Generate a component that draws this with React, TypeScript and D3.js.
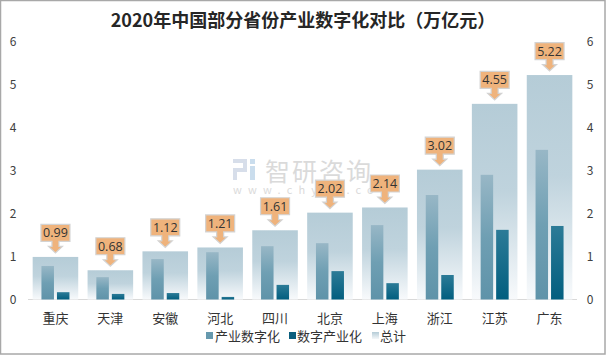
import React from "react";
import * as d3 from "d3";

const categories = ["重庆", "天津", "安徽", "河北", "四川", "北京", "上海", "浙江", "江苏", "广东"];
const industryDigital = [0.78, 0.52, 0.94, 1.1, 1.24, 1.31, 1.73, 2.43, 2.9, 3.48];
const digitalIndustry = [0.17, 0.13, 0.15, 0.06, 0.34, 0.66, 0.38, 0.57, 1.62, 1.71];
const totals = [0.99, 0.68, 1.12, 1.21, 1.61, 2.02, 2.14, 3.02, 4.55, 5.22];
const yTicks = [0, 1, 2, 3, 4, 5, 6];
const seriesNames = ["产业数字化", "数字产业化", "总计"];
const title = "2020年中国部分省份产业数字化对比（万亿元）";

const W = 606;
const H = 355;
const FONT = "'Noto Sans CJK SC', 'Noto Sans', sans-serif";

export default function App() {
  const x = d3.scaleBand<string>().domain(categories).range([28, 577]).padding(0);
  const y = d3.scaleLinear().domain([0, 6]).range([299.5, 41.5]);
  const step = x.bandwidth();
  const totalW = step * 0.83;
  const innerW = 12.5;
  const gap = 1.5;

  const callout = (cx: number, tipY: number) => {
    const bw = 29;
    const bh = 17;
    const headH = 6.5;
    const shaftH = 5;
    const headW = 7;
    const shaftW = 3.5;
    const boxBottom = tipY - headH - shaftH;
    const boxTop = boxBottom - bh;
    const l = cx - bw / 2;
    const r = cx + bw / 2;
    const p = d3.path();
    p.moveTo(l, boxTop);
    p.lineTo(r, boxTop);
    p.lineTo(r, boxBottom);
    p.lineTo(cx + shaftW, boxBottom);
    p.lineTo(cx + shaftW, boxBottom + shaftH);
    p.lineTo(cx + headW, boxBottom + shaftH);
    p.lineTo(cx, tipY);
    p.lineTo(cx - headW, boxBottom + shaftH);
    p.lineTo(cx - shaftW, boxBottom + shaftH);
    p.lineTo(cx - shaftW, boxBottom);
    p.lineTo(l, boxBottom);
    p.closePath();
    return { d: p.toString(), textY: boxTop + bh / 2 + 4.5 };
  };

  return (
    <svg width={W} height={H} style={{ position: "absolute", left: 0, top: 0, background: "#fff" }} fontFamily={FONT}>
      <defs>
        <linearGradient id="gTotal" x1="0" y1="0" x2="0" y2="1">
          <stop offset="0" stopColor="#B5CCD7" />
          <stop offset="0.45" stopColor="#BFD3DD" />
          <stop offset="1" stopColor="#F8FAFC" />
        </linearGradient>
        <linearGradient id="gInd" x1="0" y1="0" x2="0" y2="1">
          <stop offset="0" stopColor="#98B7C6" />
          <stop offset="0.5" stopColor="#6F9FB3" />
          <stop offset="1" stopColor="#5F93A9" />
        </linearGradient>
        <linearGradient id="gDig" x1="0" y1="0" x2="0" y2="1">
          <stop offset="0" stopColor="#2C7B97" />
          <stop offset="1" stopColor="#025E7F" />
        </linearGradient>
        <linearGradient id="gLegTotal" x1="0" y1="0" x2="0" y2="1">
          <stop offset="0" stopColor="#B5CCD7" />
          <stop offset="1" stopColor="#F4F7F9" />
        </linearGradient>
      </defs>

      <rect x={0.5} y={0.5} width={W - 1.5} height={H - 1.5} fill="#fff" stroke="#A8A8A8" strokeWidth={1.5} />

      <text x={303} y={27} textAnchor="middle" fontSize={18} fontWeight="bold" fill="#262626">
        {title}
      </text>

      {yTicks.map((t) => (
        <g key={t}>
          <text x={13} y={y(t) + 4.5} textAnchor="middle" fontSize={12} fill="#404040">{t}</text>
          <text x={590} y={y(t) + 4.5} textAnchor="middle" fontSize={12} fill="#404040">{t}</text>
        </g>
      ))}

      {/* watermark */}
      <g opacity={0.55}>
        <rect x={233} y={159} width={14} height={4} fill="#B8C4DA" />
        <rect x={243} y={159} width={4} height={12} fill="#B8C4DA" />
        <rect x={233} y={168} width={14} height={4} fill="#B8C4DA" />
        <rect x={233} y={168} width={4} height={12} fill="#B8C4DA" />
        <rect x={250} y={159} width={5} height={5} fill="#9FC3E0" />
        <rect x={250} y={166} width={5} height={14} fill="#9FC3E0" />
        <text x={265} y={181} fontSize={25} fill="#BDBDBD" letterSpacing={2}>智研咨询</text>
        <text x={233} y={194} fontSize={11} fill="#BDBDBD" letterSpacing={6.2}>www.chyxx.com</text>
      </g>

      <line x1={28} x2={577} y1={299.5} y2={299.5} stroke="#D9D9D9" strokeWidth={1} />

      {categories.map((c, i) => {
        const cx = (x(c) as number) + step / 2;
        const co = callout(cx, y(totals[i]) - 4);
        return (
          <g key={c}>
            <rect x={cx - totalW / 2} y={y(totals[i])} width={totalW} height={y(0) - y(totals[i])} fill="url(#gTotal)" />
            <rect x={cx - gap - innerW} y={y(industryDigital[i])} width={innerW} height={y(0) - y(industryDigital[i])} fill="url(#gInd)" />
            <rect x={cx + gap} y={y(digitalIndustry[i])} width={innerW} height={y(0) - y(digitalIndustry[i])} fill="url(#gDig)" />
            <path d={co.d} fill="#EFB37C" stroke="#D3D3D3" strokeWidth={1.2} />
            <text x={cx} y={co.textY} textAnchor="middle" fontSize={12.5} fill="#333" fontFamily="'Open Sans', 'Noto Sans', sans-serif">
              {totals[i].toFixed(2)}
            </text>
            <text x={cx} y={323} textAnchor="middle" fontSize={13} fill="#333">{c}</text>
          </g>
        );
      })}

      {/* legend */}
      <g fontSize={13} fill="#333">
        <rect x={206} y={332} width={7} height={7} fill="#6699AE" />
        <text x={215} y={341} fill="#333">{seriesNames[0]}</text>
        <rect x={289} y={332} width={7} height={7} fill="#0B5F7E" />
        <text x={297} y={341} fill="#333">{seriesNames[1]}</text>
        <rect x={372} y={332} width={7} height={7} fill="url(#gLegTotal)" />
        <text x={380} y={341} fill="#333">{seriesNames[2]}</text>
      </g>
    </svg>
  );
}
